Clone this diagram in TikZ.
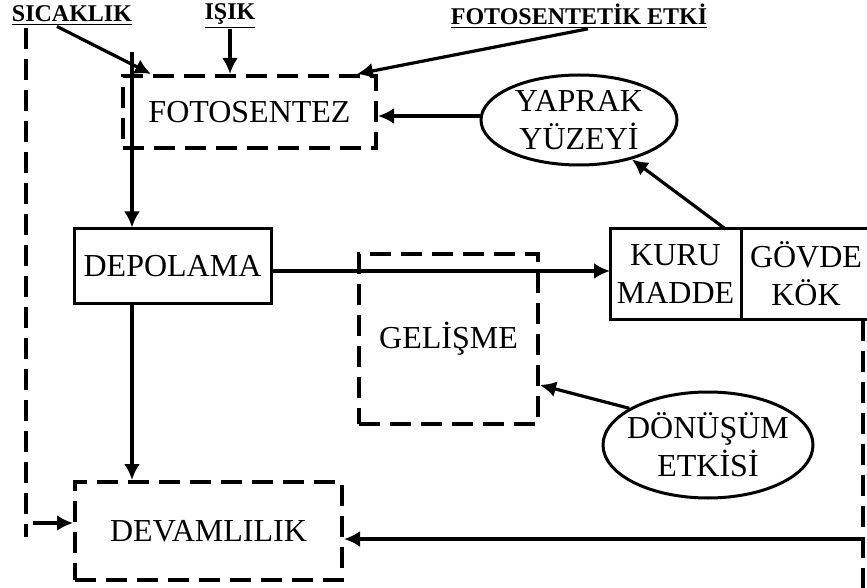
\documentclass[tikz,border=0pt]{standalone}
\usepackage{fontspec}
\setmainfont{Liberation Serif}
\usetikzlibrary{arrows.meta,shapes,positioning}
\tikzset{box/.style={
            draw,
            line width=1.5pt,
            inner sep=0pt,
            align=center,
            font=\fontsize{16}{19}\selectfont
        },
        dashbox/.style={
            box,
            line width=2pt,
            dash pattern=on 10.5pt off 5pt
        },
        oval/.style={
            box,
            ellipse
        },
        factor/.style={
            inner sep=0pt,
            font=\bfseries\fontsize{12}{14}\selectfont
        },
        arrow/.style={
            -{Latex[length=8pt,width=8pt]},
            line width=1.6pt
        },
        dashline/.style={
            line width=2pt,
            dash pattern=on 10.5pt off 5pt
        }
    }

\begin{document}
\begin{tikzpicture}[x=0.5pt,y=-0.5pt]
        \useasboundingbox (0,0) rectangle (867,588);
        % outside factors
        \node[factor] at (72,16) (sicaklik) {\underline{SICAKLIK}};
        \node[factor] at (230,16) (isik) {\underline{IŞIK}};
        \node[factor] at (579,16) (fotoetki) {\underline{FOTOSENTETİK ETKİ}};
        % boxes
        \node[dashbox,minimum width=126.5pt,minimum height=36pt] at (249.5,112) (fotosentez) {FOTOSENTEZ};
        \node[oval,minimum width=98pt,minimum height=45pt] at (579,120) (yaprak) {YAPRAK\\YÜZEYİ};
        \node[box,minimum width=98.5pt,minimum height=37pt] at (172.5,266) (depolama) {DEPOLAMA};
        \node[box,outer sep=0pt,minimum width=65.5pt,minimum height=45pt] at (675.5,274) (kuru) {KURU\\MADDE};
        \node[box,outer sep=0pt,minimum width=65pt,minimum height=45pt,right=0pt of kuru] (govde) {GÖVDE\\KÖK};
        \node[dashbox,minimum width=89.5pt,minimum height=85pt] at (448.5,339) (gelisme) {GELİŞME};
        \node[oval,inner xsep=-4pt,minimum width=105pt,minimum height=53pt] at (708,445) (donusum) {DÖNÜŞÜM\\ETKİSİ};
        \node[dashbox,minimum width=133.5pt,minimum height=49pt] at (208.5,531) (devamlilik) {DEVAMLILIK};
        % free ends
        \coordinate (stem) at (132,52);
        \coordinate (lefttop) at (26,28);
        \coordinate (leftend) at (26,537);
        \coordinate (leftfeed) at (33,523);
        \coordinate (righttop) at (863,320);
        \coordinate (rightend) at (863,600);
        \coordinate (rightfeed) at (863,539);
        \draw[dashline] (lefttop) -- (leftend);
        \draw[dashline] (righttop) -- (rightend);
        % arrows
        \draw[arrow] ([xshift=-7.5pt]sicaklik.south) -- ([xshift=15pt]fotosentez.north west);
        \draw[arrow] (isik.south) -- (isik.south |- fotosentez.north);
        \draw[arrow] ([xshift=4.5pt]fotoetki.south) -- ([xshift=-10.5pt]fotosentez.north east);
        \draw[arrow] (stem) -- (stem |- depolama.north);
        \draw[arrow] ([yshift=2pt]yaprak.west) -- ([yshift=2pt]yaprak.west -| fotosentez.east);
        \draw[arrow] ([yshift=-2.5pt]depolama.east) -- ([yshift=-2.5pt]depolama.east -| kuru.west);
        \draw[arrow] ([xshift=25pt]kuru.north) -- (yaprak);
        \draw[arrow] (stem |- depolama.south) -- (stem |- devamlilik.north);
        \draw[arrow] (donusum.155) -- ([yshift=-23pt]gelisme.east);
        \draw[arrow] (leftfeed) -- (leftfeed -| devamlilik.west);
        \draw[arrow] (rightfeed) -- (rightfeed -| devamlilik.east);
    \end{tikzpicture}
\end{document}
